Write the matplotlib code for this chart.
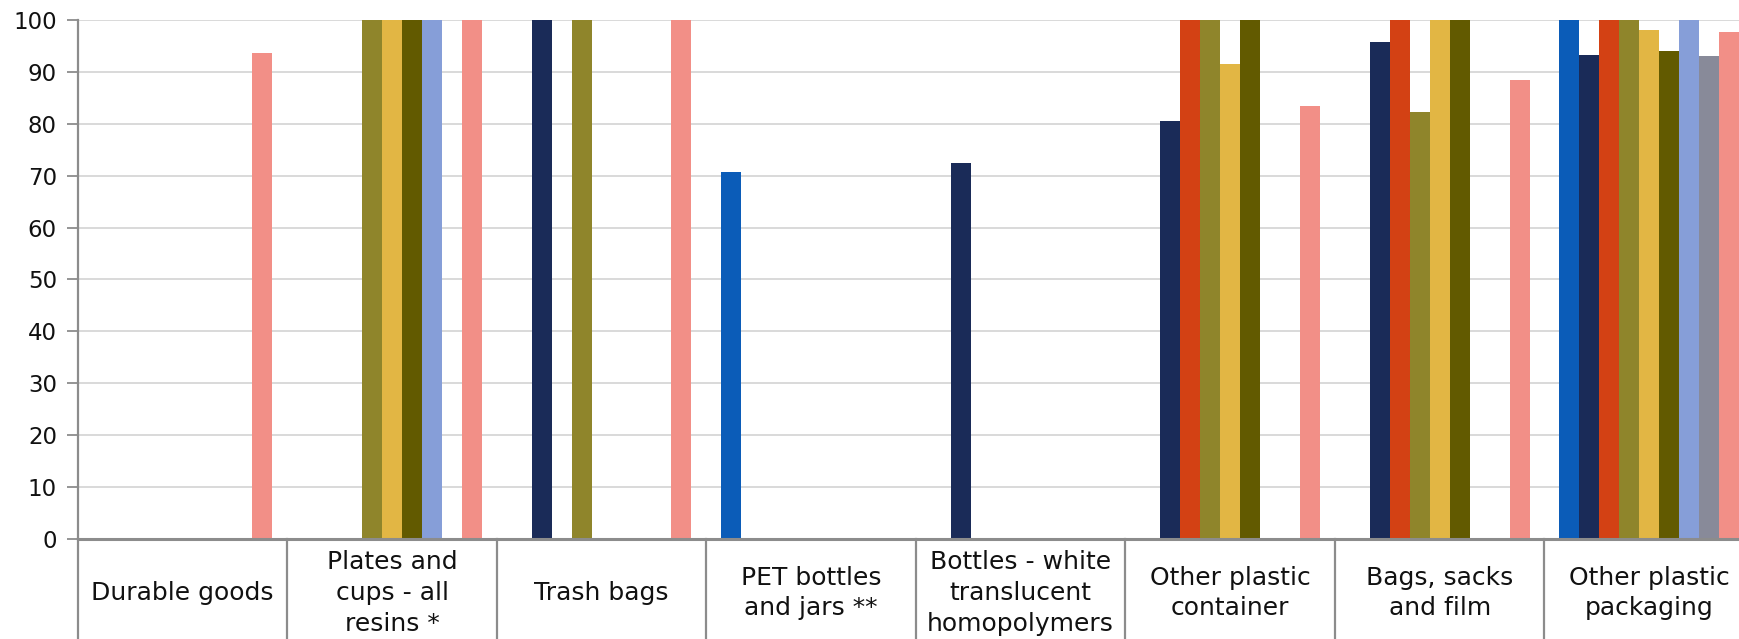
import matplotlib.pyplot as plt
import numpy as np

categories = [
    "Durable goods",
    "Plates and\ncups - all\nresins *",
    "Trash bags",
    "PET bottles\nand jars **",
    "Bottles - white\ntranslucent\nhomopolymers",
    "Other plastic\ncontainer",
    "Bags, sacks\nand film",
    "Other plastic\npackaging",
]

nan = np.nan
# one list per series, one value per category (nan = no bar)
series_1 = [nan, nan, nan, 70.7, nan, nan, nan, 100]
series_2 = [nan, nan, 100, nan, 72.4, 80.6, 95.7, 93.2]
series_3 = [nan, nan, nan, nan, nan, 100, 100, 100]
series_4 = [nan, 100, 100, nan, nan, 100, 82.3, 100]
series_5 = [nan, 100, nan, nan, nan, 91.6, 100, 98.1]
series_6 = [nan, 100, nan, nan, nan, 100, 100, 94.0]
series_7 = [nan, 100, nan, nan, nan, nan, nan, 100]
series_8 = [nan, nan, nan, nan, nan, nan, nan, 93.0]
series_9 = [93.6, 100, 100, nan, nan, 83.5, 88.5, 97.6]

series = [series_1, series_2, series_3, series_4, series_5,
          series_6, series_7, series_8, series_9]
colors = ["#0b5cb8", "#1a2b58", "#d34114", "#8f852b", "#e2b644",
          "#625a00", "#869ed8", "#888a99", "#f28f87"]

plt.rcParams["font.family"] = "DejaVu Sans"

fig = plt.figure(figsize=(17.4, 6.39), dpi=100)
# the right edge of the plot runs slightly past the figure
ax = fig.add_axes([0.0447, 0.1565, 0.9633, 0.8122])

x = np.arange(len(categories))
group = 0.858
w = group / len(series)
for i, (vals, c) in enumerate(zip(series, colors)):
    offs = -group / 2 + w * (i + 0.5)
    ax.bar(x + offs, vals, width=w, color=c, linewidth=0, zorder=3)

ax.set_xlim(-0.5, len(categories) - 0.5)
ax.set_ylim(0, 100)
ax.set_yticks(np.arange(0, 101, 10))
ax.tick_params(axis="y", labelsize=16.5, length=8, width=1.3,
               color="#8c8c8c", pad=7, labelcolor="#111111")
ax.set_xticks([])
ax.yaxis.grid(True, color="#d9d9d9", linewidth=1.4, zorder=0)
ax.set_axisbelow(True)

for side in ["top", "right"]:
    ax.spines[side].set_visible(False)
ax.spines["left"].set_color("#8c8c8c")
ax.spines["left"].set_linewidth(1.6)
ax.spines["bottom"].set_color("#8c8c8c")
ax.spines["bottom"].set_linewidth(2.2)
ax.spines["bottom"].set_zorder(4)

# category cells below the axis
trans = ax.get_xaxis_transform()
for b in np.arange(-0.5, len(categories), 1.0):
    ax.plot([b, b], [0, -0.25], transform=trans, color="#8c8c8c",
            linewidth=1.6, clip_on=False)
for xi, lab in zip(x, categories):
    ax.text(xi, -0.104, lab, transform=trans, ha="center", va="center",
            multialignment="center", fontsize=18, linespacing=1.36,
            color="#111111")

fig.savefig("out.png", dpi=100)
